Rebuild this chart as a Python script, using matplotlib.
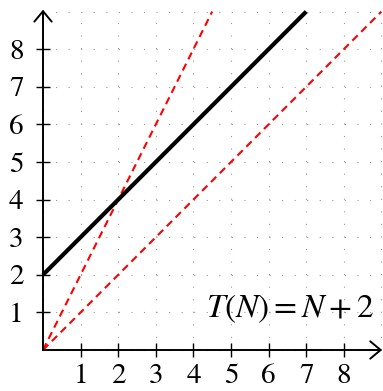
import matplotlib
matplotlib.use("Agg")
import matplotlib.pyplot as plt

plt.rcParams["font.family"] = ["STIXGeneral", "DejaVu Serif"]
plt.rcParams["mathtext.fontset"] = "stix"

# T(N) = N + 2 and the two reference lines through the origin
n_vals = [0, 7]
t_vals = [2, 9]
steep_n = [0, 4.5]
steep_t = [0, 9]
slow_n = [0, 9]
slow_t = [0, 9]
ticks = [1, 2, 3, 4, 5, 6, 7, 8]
grid_pos = [0, 1, 2, 3, 4, 5, 6, 7, 8, 9]

fig = plt.figure(figsize=(3.83, 3.91), dpi=100)
ax = fig.add_axes([0, 0, 1, 1])
ax.set_xlim(-1.1436, 9.0426)
ax.set_ylim(-1.0904, 9.3085)

# dotted grid
for g in grid_pos:
    ax.plot([g, g], [0, 9], color="#9a9a9a", lw=0.8, ls=(0, (1, 10.3)), zorder=0)
    ax.plot([0, 9], [g, g], color="#9a9a9a", lw=0.8, ls=(0, (1, 10.3)), zorder=0)

ax.plot(steep_n, steep_t, color="red", lw=1.5, ls=(0, (3.6, 2.4)), zorder=2)
ax.plot(slow_n, slow_t, color="red", lw=1.5, ls=(0, (3.6, 2.4)), zorder=2)
ax.plot(n_vals, t_vals, color="black", lw=3.0, solid_capstyle="butt", zorder=3)

# axes through the origin with arrow heads
for s in ["top", "right"]:
    ax.spines[s].set_visible(False)
for s in ["left", "bottom"]:
    ax.spines[s].set_position(("data", 0))
    ax.spines[s].set_bounds(0, 8.8)
    ax.spines[s].set_linewidth(1.4)
arrow = dict(arrowstyle="->,head_length=0.3,head_width=0.25", lw=1.4,
             color="black", mutation_scale=25, shrinkA=0, shrinkB=0)
ax.annotate("", xy=(9.02, 0), xytext=(8.7, 0), arrowprops=arrow)
ax.annotate("", xy=(0, 9.05), xytext=(0, 8.7), arrowprops=arrow)

ax.set_xticks(ticks)
ax.set_yticks(ticks)
ax.tick_params(direction="inout", length=10, width=1.0, labelsize=21)
ax.tick_params(axis="x", pad=5)
ax.tick_params(axis="y", pad=9)

ax.text(8.8, 1.1, r"$T(N) = N + 2$", fontsize=24, ha="right", va="center")

fig.savefig("out.png", dpi=100)
